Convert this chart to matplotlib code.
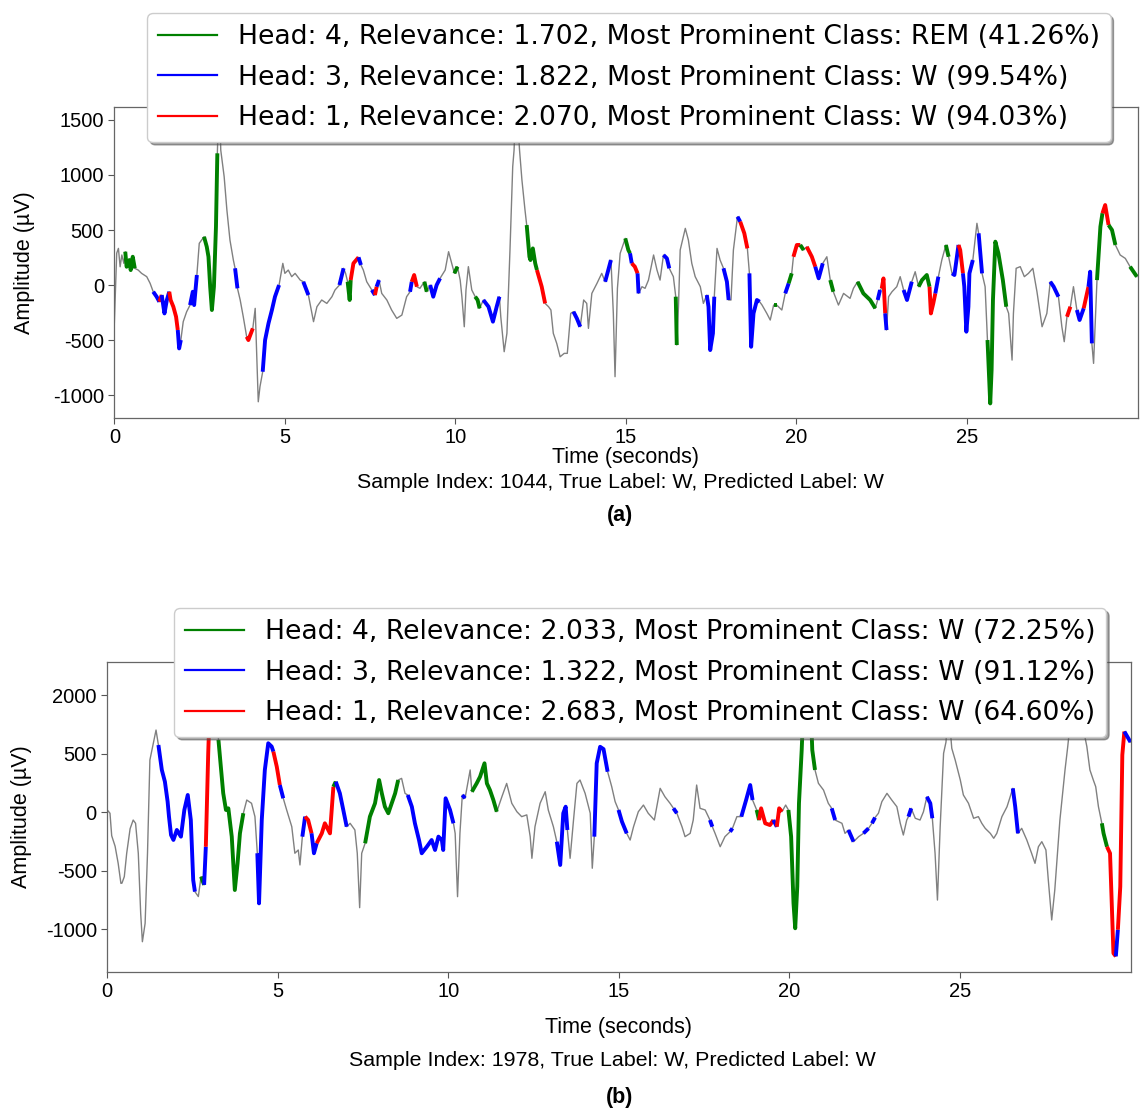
import numpy as np
import matplotlib.pyplot as plt
from matplotlib.lines import Line2D

# ---- panel (a): sample 1044 ----
t_a = [0.00, 0.07, 0.12, 0.17, 0.22, 0.28, 0.32, 0.36, 0.44, 0.48, 0.54, 0.60, 0.70, 0.80, 0.95,
       1.05, 1.14, 1.24, 1.32, 1.39, 1.44, 1.47, 1.54, 1.61, 1.65, 1.73, 1.81, 1.86, 1.90, 1.95,
       2.02, 2.12, 2.22, 2.30, 2.34, 2.42, 2.49, 2.63, 2.71, 2.76, 2.81, 2.86, 2.92, 2.98, 3.02,
       3.08, 3.12, 3.22, 3.30, 3.39, 3.49, 3.54, 3.61, 3.69, 3.78, 3.88, 3.93, 4.06, 4.13, 4.22,
       4.27, 4.35, 4.42, 4.52, 4.62, 4.71, 4.83, 4.94, 5.00, 5.10, 5.20, 5.30, 5.45, 5.54, 5.69,
       5.84, 5.94, 6.08, 6.23, 6.38, 6.47, 6.60, 6.72, 6.78, 6.84, 6.90, 6.93, 7.01, 7.16, 7.23,
       7.30, 7.40, 7.55, 7.64, 7.69, 7.76, 7.84, 7.99, 8.13, 8.28, 8.43, 8.57, 8.67, 8.72, 8.79,
       8.87, 8.96, 9.09, 9.16, 9.26, 9.35, 9.45, 9.55, 9.70, 9.80, 9.89, 9.97, 10.06, 10.14, 10.19,
       10.26, 10.31, 10.38, 10.48, 10.58, 10.65, 10.71, 10.82, 10.97, 11.10, 11.21, 11.29, 11.33,
       11.43, 11.51, 11.60, 11.68, 11.72, 11.78, 11.88, 11.95, 12.04, 12.09, 12.17, 12.20, 12.27,
       12.34, 12.39, 12.53, 12.63, 12.73, 12.80, 12.87, 12.97, 13.07, 13.19, 13.28, 13.38, 13.46,
       13.56, 13.66, 13.76, 13.85, 13.90, 14.00, 14.15, 14.29, 14.39, 14.56, 14.63, 14.68, 14.75,
       14.83, 14.98, 15.07, 15.12, 15.17, 15.26, 15.34, 15.37, 15.47, 15.56, 15.66, 15.81, 15.91,
       16.00, 16.10, 16.20, 16.27, 16.39, 16.46, 16.49, 16.54, 16.59, 16.74, 16.83, 16.93, 17.03,
       17.18, 17.27, 17.37, 17.42, 17.47, 17.55, 17.59, 17.67, 17.76, 17.86, 17.96, 18.01, 18.08,
       18.15, 18.27, 18.35, 18.47, 18.56, 18.62, 18.67, 18.74, 18.84, 18.92, 18.99, 19.13, 19.23,
       19.33, 19.42, 19.57, 19.67, 19.77, 19.86, 19.91, 20.01, 20.11, 20.21, 20.30, 20.45, 20.55,
       20.65, 20.77, 20.89, 20.99, 21.08, 21.23, 21.38, 21.57, 21.67, 21.79, 21.96, 22.16, 22.31,
       22.38, 22.45, 22.50, 22.55, 22.60, 22.64, 22.70, 22.80, 22.94, 23.04, 23.14, 23.24, 23.38,
       23.48, 23.58, 23.68, 23.82, 23.90, 23.94, 24.01, 24.07, 24.16, 24.26, 24.38, 24.46, 24.56,
       24.63, 24.75, 24.80, 24.88, 24.92, 24.98, 25.04, 25.07, 25.17, 25.29, 25.34, 25.44, 25.53,
       25.60, 25.68, 25.72, 25.76, 25.83, 25.92, 26.05, 26.15, 26.22, 26.32, 26.36, 26.44, 26.56,
       26.68, 26.80, 26.93, 27.05, 27.20, 27.34, 27.44, 27.54, 27.68, 27.78, 27.85, 27.93, 28.03,
       28.12, 28.22, 28.30, 28.42, 28.56, 28.61, 28.66, 28.71, 28.81, 28.91, 28.97, 29.05, 29.15,
       29.25, 29.35, 29.49, 29.64, 29.78, 29.98]
v_a = [-350, 290, 333, 166, 273, 197, 303, 166, 227, 136, 257, 152, 136, 106, 76,
       15, -61, -106, -152, -91, -197, -258, -136, -61, -136, -197, -288, -409, -576, -500,
       -333, -243, -182, -61, -182, 91, 379, 439, 348, 257, -15, -227, -15, 530, 1197,
       1800, 1227, 985, 682, 409, 227, 152, -30, -136, -288, -470, -500, -394, -212, -1061,
       -924, -788, -500, -348, -227, -106, 0, 197, 106, 136, 76, 106, 45, 30, -91,
       -333, -197, -136, -167, -106, -45, 0, 152, 106, 30, -136, 45, 197, 252, 182,
       136, 30, -45, -91, -15, 45, -76, -136, -227, -303, -273, -106, -61, 30, 91,
       -15, -30, 30, -61, 0, -106, 0, 61, 136, 303, 197, 106, 167, 45, -106,
       -379, -45, 167, -45, -106, -136, -212, -136, -197, -333, -197, -106, -288,
       -606, -439, 318, 1076, 1227, 1750, 1227, 955, 682, 545, 257, 227, 333,
       197, 136, -15, -167, -197, -227, -439, -530, -652, -621, -621, -258, -242,
       -303, -379, -136, -167, -394, -76, 15, 106, 30, 227, -258, -833, -30,
       288, 424, 318, 288, 197, 167, 106, -76, -15, -30, 45, 273, 136,
       45, 273, 242, 152, 76, -106, -545, -197, 318, 515, 409, 197, 76,
       -15, -167, -91, -197, -591, -439, -106, 333, 227, 152, 30, -136, -136,
       318, 621, 576, 470, 333, 106, -561, -258, -136, -152, -182, -258, -318,
       -182, -182, -227, -76, 15, 106, 257, 364, 364, 318, 348, 257, 167,
       61, 197, 257, 45, -61, -182, -76, -121, -30, 30, -76, -136, -212,
       -136, -45, -30, 60, -258, -409, -106, -61, -15, 76, -45, -136, 30,
       121, -15, 45, 91, -15, -258, -167, -76, 76, 227, 364, 257, 106,
       91, 364, 318, 106, -15, -424, -197, 106, 227, 561, 470, 106, -15,
       -500, -1076, -773, -136, 394, 288, 45, -197, -258, -682, -258, 152, 167,
       76, 106, 152, -61, -379, -258, 30, -15, -106, -379, -515, -288, -197,
       -15, -227, -318, -212, -15, 121, -530, -712, 45, 530, 652, 727, 545,
       500, 364, 273, 242, 167, 76]
# (start s, end s, head) highlighted by each attention head
seg_a = [(0.32, 0.60, 4), (1.14, 1.32, 3), (1.32, 1.39, 1), (1.39, 1.61, 3), (1.61, 1.86, 1),
         (1.86, 1.95, 3), (2.22, 2.42, 3), (2.63, 3.02, 4), (3.54, 3.61, 3), (3.88, 4.06, 1),
         (4.35, 4.83, 3), (5.54, 5.69, 3), (6.60, 6.72, 3), (6.84, 6.93, 4), (6.93, 7.16, 1),
         (7.16, 7.23, 3), (7.55, 7.64, 3), (7.64, 7.69, 1), (7.69, 7.76, 3), (8.67, 8.72, 3),
         (8.72, 8.87, 1), (9.09, 9.16, 4), (9.26, 9.55, 3), (9.97, 10.06, 4), (10.58, 10.71, 4),
         (10.82, 11.29, 3), (12.09, 12.39, 4), (12.39, 12.63, 1), (13.46, 13.66, 3),
         (14.39, 14.56, 3), (14.98, 15.12, 4), (15.12, 15.17, 3), (15.17, 15.34, 1),
         (15.34, 15.37, 3), (16.10, 16.27, 3), (16.46, 16.49, 4), (17.37, 17.59, 3),
         (17.86, 18.01, 3), (18.27, 18.35, 3), (18.35, 18.56, 1), (18.62, 18.92, 3),
         (19.33, 19.42, 4), (19.67, 19.77, 3), (19.77, 19.86, 4), (19.91, 20.11, 1),
         (20.11, 20.21, 4), (20.30, 20.55, 1), (20.55, 20.77, 3), (20.99, 21.08, 4),
         (21.79, 22.31, 4), (22.38, 22.45, 3), (22.50, 22.60, 1), (22.60, 22.64, 3),
         (23.14, 23.38, 3), (23.58, 23.90, 4), (23.90, 24.07, 1), (24.07, 24.16, 3),
         (24.38, 24.46, 4), (24.56, 24.75, 3), (24.75, 24.88, 1), (24.88, 25.17, 3),
         (25.34, 25.44, 3), (25.60, 26.15, 4), (27.44, 27.68, 3), (27.93, 28.03, 1),
         (28.22, 28.42, 3), (28.42, 28.56, 1), (28.56, 28.66, 3), (28.81, 28.97, 4),
         (28.97, 29.15, 1), (29.15, 29.35, 4), (29.78, 29.98, 4)]
labels_a = ["Head: 4, Relevance: 1.702, Most Prominent Class: REM (41.26%)",
            "Head: 3, Relevance: 1.822, Most Prominent Class: W (99.54%)",
            "Head: 1, Relevance: 2.070, Most Prominent Class: W (94.03%)"]
caption_a = "Sample Index: 1044, True Label: W, Predicted Label: W"
yticks_a = [-1000, -500, 0, 500, 1000, 1500]
ytick_labels_a = ["-1000", "-500", "0", "500", "1000", "1500"]

# ---- panel (b): sample 1978 ----
t_b = [0.00, 0.08, 0.13, 0.23, 0.32, 0.40, 0.43, 0.50, 0.57, 0.67, 0.76, 0.83, 0.91, 0.98, 1.03,
       1.11, 1.18, 1.25, 1.35, 1.43, 1.50, 1.60, 1.69, 1.77, 1.81, 1.87, 1.94, 2.04, 2.16, 2.26,
       2.36, 2.45, 2.52, 2.57, 2.67, 2.75, 2.84, 2.89, 2.96, 3.05, 3.15, 3.26, 3.33, 3.40, 3.48,
       3.55, 3.65, 3.74, 3.82, 3.89, 3.99, 4.09, 4.23, 4.33, 4.40, 4.45, 4.53, 4.62, 4.72, 4.82,
       4.87, 4.97, 5.06, 5.16, 5.26, 5.41, 5.50, 5.60, 5.65, 5.72, 5.80, 5.89, 5.99, 6.06, 6.14,
       6.29, 6.38, 6.53, 6.63, 6.70, 6.82, 6.92, 7.02, 7.12, 7.26, 7.33, 7.40, 7.46, 7.56, 7.70,
       7.85, 7.97, 8.05, 8.14, 8.24, 8.34, 8.44, 8.53, 8.63, 8.73, 8.81, 8.93, 9.02, 9.14, 9.22,
       9.37, 9.51, 9.61, 9.71, 9.81, 9.85, 9.92, 10.05, 10.15, 10.20, 10.27, 10.34, 10.41, 10.49,
       10.64, 10.69, 10.83, 10.93, 11.06, 11.13, 11.22, 11.32, 11.42, 11.57, 11.71, 11.86, 12.01,
       12.15, 12.30, 12.40, 12.45, 12.54, 12.69, 12.84, 12.93, 13.08, 13.18, 13.28, 13.37, 13.44,
       13.49, 13.57, 13.67, 13.77, 13.86, 14.01, 14.16, 14.22, 14.28, 14.35, 14.45, 14.55, 14.67,
       14.79, 14.89, 14.99, 15.09, 15.23, 15.33, 15.43, 15.57, 15.72, 15.86, 16.04, 16.21, 16.35,
       16.50, 16.60, 16.70, 16.85, 16.94, 17.09, 17.18, 17.28, 17.38, 17.53, 17.67, 17.74, 17.82,
       17.97, 18.11, 18.26, 18.33, 18.46, 18.59, 18.73, 18.85, 18.92, 19.04, 19.11, 19.17, 19.29,
       19.43, 19.53, 19.63, 19.70, 19.78, 19.89, 19.97, 20.05, 20.12, 20.17, 20.23, 20.28, 20.36,
       20.45, 20.60, 20.67, 20.75, 20.85, 21.00, 21.14, 21.24, 21.34, 21.54, 21.63, 21.73, 21.88,
       22.03, 22.17, 22.32, 22.42, 22.51, 22.61, 22.71, 22.86, 23.00, 23.15, 23.25, 23.34, 23.44,
       23.49, 23.57, 23.69, 23.83, 23.93, 24.03, 24.13, 24.19, 24.27, 24.34, 24.42, 24.52, 24.59,
       24.66, 24.76, 24.86, 25.01, 25.10, 25.25, 25.40, 25.54, 25.64, 25.74, 25.89, 25.99, 26.08,
       26.23, 26.38, 26.55, 26.62, 26.70, 26.81, 26.96, 27.10, 27.20, 27.30, 27.40, 27.52, 27.59,
       27.69, 27.78, 27.93, 28.08, 28.16, 28.35, 28.72, 28.81, 28.91, 28.98, 29.06, 29.16, 29.21,
       29.31, 29.40, 29.45, 29.50, 29.57, 29.63, 29.70, 29.76, 29.82, 29.90, 30.00]
v_b = [20, -8, -200, -290, -436, -607, -606, -550, -350, -140, -66, -94, -350, -863, -1106,
       -949, -350, 447, 590, 703, 575, 362, 262, 91, -37, -194, -236, -151, -208, 20,
       148, -66, -579, -678, -720, -550, -620, -294, 504, 1300, 1500, 619, 390, 163, 20,
       34, -208, -664, -436, -180, -8, 105, 77, -37, -350, -778, -66, 362, 590, 562,
       519, 390, 233, 120, 20, -123, -350, -322, -450, -208, -37, -66, -180, -350, -265,
       -180, -94, -180, 219, 262, 162, 20, -123, -94, -151, -350, -815, -350, -265, -37,
       77, 276, 162, 48, -8, 77, 162, 276, 290, 162, 148, 48, -94, -237, -350,
       -294, -237, -322, -208, -237, -322, 120, 20, -94, -180, -721, -180, 148, 120,
       362, 176, 247, 304, 419, 247, 190, 105, 5, 133, 247, 77, 5,
       -37, -22, -208, -393, -123, 77, 176, 20, -123, -251, -450, -8, 48,
       -151, -393, -66, 247, 276, 162, -8, -478, -208, 419, 560, 540, 347,
       219, 91, 20, -80, -180, -237, -123, 5, 62, -8, -66, 205, 133,
       77, 34, -8, -123, -208, -180, -66, 233, 34, 20, -66, -123, -180,
       -294, -208, -166, -137, -37, -37, 105, 233, 105, 20, -66, 34, -94,
       -109, -66, -123, 34, 5, 62, 20, -208, -778, -991, -635, 77, 533,
       1200, 1100, 533, 362, 248, 190, 77, 34, -66, -94, -180, -151, -251,
       -208, -180, -137, -94, -45, -8, 91, 162, 105, 48, -94, -194, -66,
       -37, 34, -51, -66, 5, 133, 77, -51, -350, -750, -123, 504, 600,
       900, 547, 447, 276, 148, 77, -51, -37, -94, -137, -180, -222, -180,
       -37, 48, 205, 48, -180, -137, -237, -350, -436, -294, -251, -322, -578,
       -920, -664, -66, 362, 562, 1100, 562, 362, 276, 219, 48, -94, -180,
       -294, -350, -778, -1205, -1231, -1003, -635, 490, 690, 650, 600]
seg_b = [(1.50, 2.57, 3), (2.75, 2.84, 4), (2.84, 2.89, 3), (2.89, 3.05, 1), (3.26, 3.99, 4),
         (4.40, 4.87, 3), (4.87, 5.06, 1), (5.06, 5.16, 3), (5.72, 5.80, 3), (5.80, 5.99, 1),
         (5.99, 6.14, 3), (6.14, 6.63, 1), (6.63, 6.70, 4), (6.70, 7.02, 3), (7.56, 8.53, 4),
         (8.81, 10.15, 3), (10.41, 10.49, 3), (10.69, 11.42, 4), (13.18, 13.49, 3),
         (14.28, 14.67, 3), (14.99, 15.23, 3), (16.60, 16.70, 3), (17.67, 17.74, 3),
         (18.26, 18.33, 3), (18.59, 18.92, 3), (19.04, 19.11, 4), (19.11, 19.53, 1),
         (19.53, 19.63, 3), (19.63, 19.78, 1), (19.97, 20.75, 4), (21.24, 21.34, 3),
         (21.73, 21.88, 3), (22.17, 22.32, 3), (22.42, 22.51, 3), (23.49, 23.57, 3),
         (24.03, 24.19, 3), (26.55, 26.70, 3), (29.16, 29.31, 4), (29.31, 29.57, 1),
         (29.57, 29.63, 3), (29.63, 29.82, 1), (29.82, 30.00, 3)]
labels_b = ["Head: 4, Relevance: 2.033, Most Prominent Class: W (72.25%)",
            "Head: 3, Relevance: 1.322, Most Prominent Class: W (91.12%)",
            "Head: 1, Relevance: 2.683, Most Prominent Class: W (64.60%)"]
caption_b = "Sample Index: 1978, True Label: W, Predicted Label: W"
yticks_b = [-1000, -500, 0, 500, 1000]
ytick_labels_b = ["-1000", "-500", "0", "500", "2000"]

head_colors = {4: "green", 3: "blue", 1: "red"}
sans = ["Liberation Sans", "DejaVu Sans"]


def draw_panel(ax, t, v, segs, labels, ylim, yticks, yticklabels, anchor, xlab_y, ylab_x):
    t = np.array(t)
    v = np.array(v)
    ax.plot(t, v, color="gray", lw=1.0)
    for t0, t1, head in segs:
        i0 = np.abs(t - t0).argmin()
        i1 = max(np.abs(t - t1).argmin(), i0 + 1)
        ax.plot(t[i0:i1 + 1], v[i0:i1 + 1], color=head_colors[head], lw=2.8,
                solid_capstyle="butt")
    ax.set_xlim(0, 30)
    ax.set_ylim(*ylim)
    ax.set_xticks([0, 5, 10, 15, 20, 25])
    ax.set_yticks(yticks)
    ax.set_yticklabels(yticklabels)
    for lab in ax.get_xticklabels() + ax.get_yticklabels():
        lab.set_family(sans)
        lab.set_fontsize(14.5)
    ax.tick_params(length=4, width=0.8, color="#555555")
    for sp in ax.spines.values():
        sp.set_color("#666666")
        sp.set_linewidth(0.9)
    ax.set_xlabel("Time (seconds)", family=sans, fontsize=15.5)
    ax.set_ylabel("Amplitude (\u00b5V)", family=sans, fontsize=15.5)
    ax.xaxis.set_label_coords(0.5, xlab_y)
    ax.yaxis.set_label_coords(ylab_x, 0.5)
    handles = [Line2D([], [], color=head_colors[h], lw=1.6) for h in (4, 3, 1)]
    leg = ax.legend(handles, labels, loc="lower center", bbox_to_anchor=anchor,
                    borderaxespad=0, prop={"family": "DejaVu Sans", "size": 19.2},
                    fancybox=True, shadow=True, framealpha=1, handlelength=2.2,
                    labelspacing=0.55, edgecolor="#cccccc")
    leg.set_zorder(5)


fig = plt.figure(figsize=(11.41, 11.11), dpi=100)
ax_a = fig.add_axes([0.1002, 0.6240, 0.8968, 0.2794])
ax_b = fig.add_axes([0.0940, 0.1254, 0.8968, 0.2790])

draw_panel(ax_a, t_a, v_a, seg_a, labels_a, (-1206, 1615), yticks_a, ytick_labels_a,
           (0.503, 0.888), -0.094, -0.0775)
draw_panel(ax_b, t_b, v_b, seg_b, labels_b, (-1362, 1287), yticks_b, ytick_labels_b,
           (0.521, 0.757), -0.145, -0.0736)

fig.text(0.544, 1 - 482 / 1111, caption_a, ha="center", va="center", family=sans,
         fontsize=15.4)
fig.text(0.543, 1 - 516 / 1111, "(a)", ha="center", va="center", family=sans,
         fontsize=15.5, fontweight="bold")
fig.text(0.537, 1 - 1060 / 1111, caption_b, ha="center", va="center", family=sans,
         fontsize=15.4)
fig.text(0.543, 1 - 1097 / 1111, "(b)", ha="center", va="center", family=sans,
         fontsize=15.5, fontweight="bold")

fig.savefig("out.png", dpi=100)
